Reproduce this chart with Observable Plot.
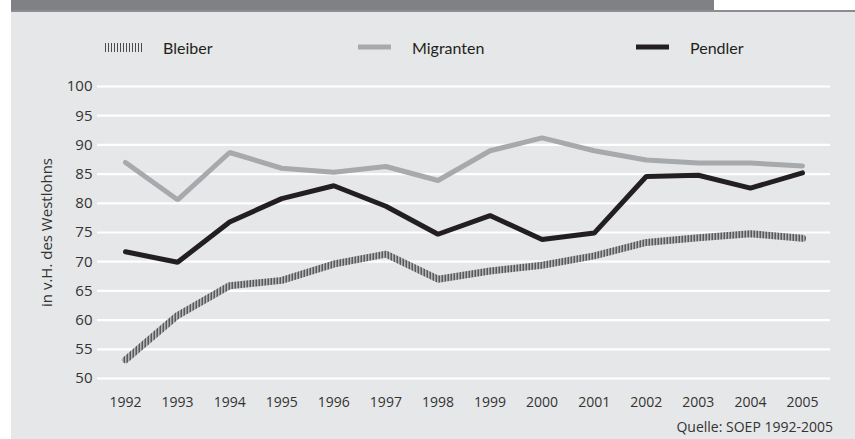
<!DOCTYPE html>
<html>
<head>
<meta charset="utf-8">
<script src="https://cdn.jsdelivr.net/npm/d3@7"></script>
<script src="https://cdn.jsdelivr.net/npm/@observablehq/plot@0.6"></script>
<style>
  html, body { margin: 0; padding: 0; background: #ffffff; }
  #wrap { position: relative; width: 855px; height: 439px; overflow: hidden; background: #ffffff; font-family: "Open Sans", sans-serif; }
  #panel { position: absolute; left: 11px; top: 12px; width: 844px; height: 427px; background: #e6e7e8; }
  #headbar { position: absolute; left: 11px; top: 0; width: 703px; height: 10px; background: #808185; }
  #headline { position: absolute; left: 11px; top: 10px; width: 844px; height: 2px; background: #8c8d90; }
  #chart { position: absolute; left: 0; top: 0; }
  .leg { position: absolute; top: 36px; height: 22px; display: flex; align-items: center; font-family: Lato, sans-serif; font-size: 16px; color: #231f20; }
  .leg svg { margin-right: 21px; }
  #caption { position: absolute; right: 22px; top: 417px; font-size: 14px; color: #333; font-family: "Open Sans", sans-serif; }
</style>
</head>
<body>
<div id="wrap">
  <div id="panel"></div>
  <div id="headbar"></div>
  <div id="headline"></div>
  <div id="chart"></div>
  <div id="legend"></div>
  <div id="caption">Quelle: SOEP 1992-2005</div>
</div>
<script>
const years = [1992, 1993, 1994, 1995, 1996, 1997, 1998, 1999, 2000, 2001, 2002, 2003, 2004, 2005];
const bleiber   = [53.2, 60.8, 65.9, 66.8, 69.6, 71.3, 67.0, 68.4, 69.4, 71.0, 73.3, 74.1, 74.8, 74.0];
const migranten = [87.0, 80.6, 88.7, 86.0, 85.3, 86.3, 83.9, 89.0, 91.2, 89.0, 87.4, 86.9, 86.9, 86.4];
const pendler   = [71.7, 69.9, 76.8, 80.8, 83.0, 79.5, 74.7, 77.9, 73.8, 74.9, 84.6, 84.8, 82.6, 85.2];
const seriesNames = ["Bleiber", "Migranten", "Pendler"];
const yTicks = [50, 55, 60, 65, 70, 75, 80, 85, 90, 95, 100];
const yLabel = "in v.H. des Westlohns";

const rows = (vals) => years.map((y, i) => ({year: y, value: vals[i]}));

const chart = Plot.plot({
  width: 855,
  height: 439,
  marginTop: 86,
  marginBottom: 61,
  marginLeft: 97,
  marginRight: 25,
  style: {background: "transparent", fontFamily: "'Open Sans', sans-serif", color: "#333"},
  x: {domain: [1992, 2005], insetLeft: 28, insetRight: 28},
  y: {domain: [50, 100]},
  marks: [
    Plot.ruleY(yTicks, {stroke: "#ffffff", strokeWidth: 2.2}),
    Plot.axisY({ticks: yTicks, tickSize: 0, tickPadding: 5, fontSize: 15, label: null}),
    Plot.axisX({ticks: years, tickFormat: d => String(d), tickSize: 0, tickPadding: 19, fontSize: 14, label: null}),
    Plot.text([yLabel], {frameAnchor: "left", textAnchor: "middle", rotate: -90, dx: -50, fontSize: 15, fill: "#333"}),
    Plot.line(rows(bleiber), {x: "year", y: "value", stroke: "#555555", strokeWidth: 7, strokeLinejoin: "miter", className: "bleiber-line"}),
    Plot.line(rows(migranten), {x: "year", y: "value", stroke: "#a7a9ac", strokeWidth: 5, strokeLinejoin: "miter"}),
    Plot.line(rows(pendler), {x: "year", y: "value", stroke: "#231f20", strokeWidth: 5, strokeLinejoin: "miter"})
  ]
});
// hatch pattern for the Bleiber line
const ns = "http://www.w3.org/2000/svg";
const defs = document.createElementNS(ns, "defs");
defs.innerHTML = '<pattern id="bleiberHatch" patternUnits="userSpaceOnUse" width="3" height="6">' +
  '<rect x="0" y="0" width="3" height="6" fill="#e6e7e8"/>' +
  '<rect x="0" y="0" width="1.5" height="6" fill="#2a2a2a"/></pattern>';
chart.insertBefore(defs, chart.firstChild);
chart.querySelectorAll(".bleiber-line path, path.bleiber-line").forEach(el => {
  el.setAttribute("stroke", "url(#bleiberHatch)");
});
chart.querySelectorAll("g.bleiber-line").forEach(el => el.setAttribute("stroke", "url(#bleiberHatch)"));
document.getElementById("chart").appendChild(chart);

// legend
const legend = document.getElementById("legend");
const legendItems = [
  {name: seriesNames[0], left: 105, swatch: '<svg width="37" height="10"><defs><pattern id="legHatch" patternUnits="userSpaceOnUse" width="3" height="10"><rect width="1" height="10" fill="#4a4a4a"/></pattern></defs><rect x="0" y="1" width="37" height="9" fill="url(#legHatch)"/></svg>'},
  {name: seriesNames[1], left: 358, swatch: '<svg width="33" height="10"><line x1="0" y1="5" x2="33" y2="5" stroke="#a7a9ac" stroke-width="5"/></svg>'},
  {name: seriesNames[2], left: 636, swatch: '<svg width="33" height="10"><line x1="0" y1="5" x2="33" y2="5" stroke="#231f20" stroke-width="5"/></svg>'}
];
legendItems.forEach(it => {
  const d = document.createElement("div");
  d.className = "leg";
  d.style.left = it.left + "px";
  d.innerHTML = it.swatch + "<span>" + it.name + "</span>";
  legend.appendChild(d);
});
</script>
</body>
</html>
